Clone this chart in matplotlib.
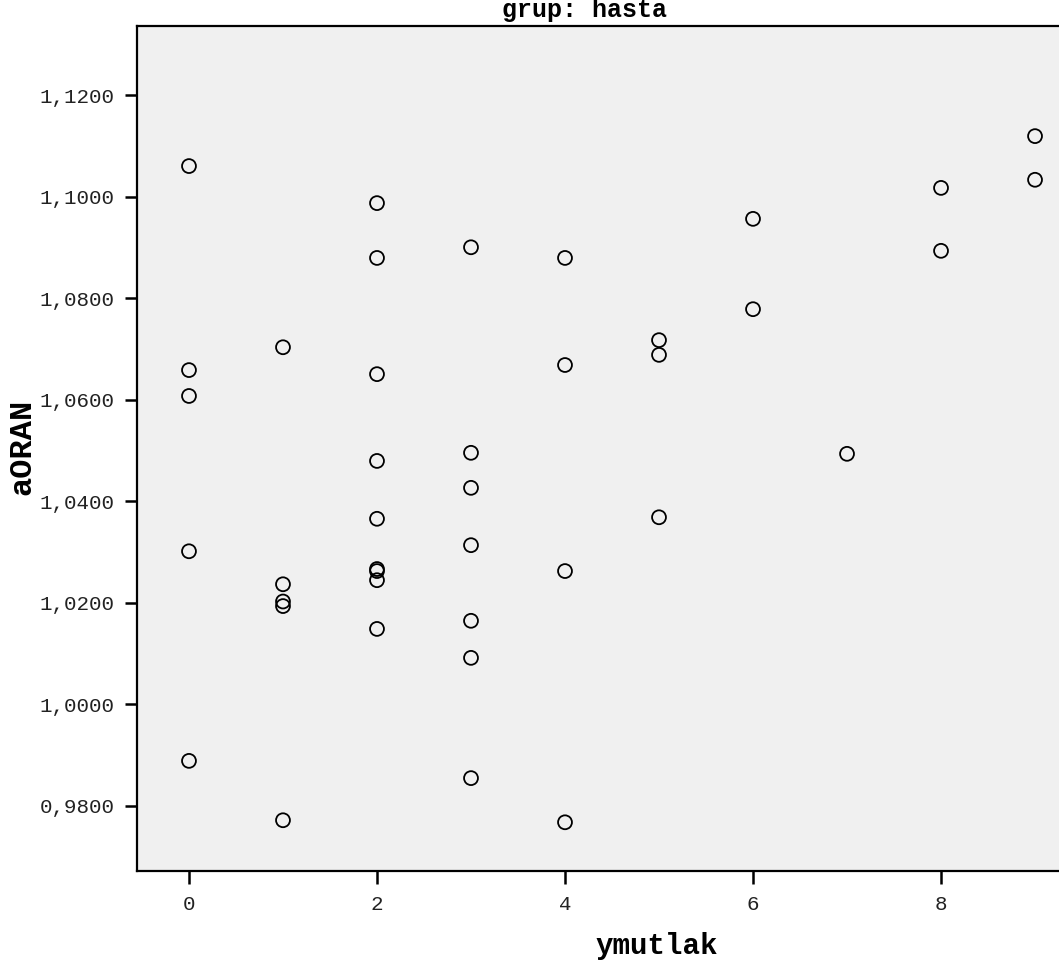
import matplotlib
matplotlib.use("Agg")
import matplotlib.pyplot as plt

# ymutlak values and matching aORAN values (group: hasta)
ymutlak = [0, 0, 0, 0, 0,
           1, 1, 1, 1, 1,
           2, 2, 2, 2, 2, 2, 2, 2, 2,
           3, 3, 3, 3, 3, 3, 3,
           4, 4, 4, 4,
           5, 5, 5,
           6, 6,
           7,
           8, 8,
           9, 9]
aoran = [1.1060, 1.0658, 1.0607, 1.0301, 0.9888,
         1.0703, 1.0236, 1.0202, 1.0193, 0.9771,
         1.0987, 1.0879, 1.0650, 1.0479, 1.0365, 1.0266, 1.0262, 1.0244, 1.0148,
         1.0900, 1.0495, 1.0426, 1.0313, 1.0164, 1.0091, 0.9854,
         1.0879, 1.0668, 1.0262, 0.9767,
         1.0717, 1.0688, 1.0368,
         1.0956, 1.0778,
         1.0493,
         1.1017, 1.0893,
         1.1119, 1.1033]

xticks = [0, 2, 4, 6, 8]
yticks = [0.98, 1.00, 1.02, 1.04, 1.06, 1.08, 1.10, 1.12]

mono = "Liberation Mono"

fig = plt.figure(figsize=(10.59, 9.66), dpi=100)
ax = fig.add_axes([137 / 1059, 95 / 966, 1 - 137 / 1059, 845 / 966])
ax.set_facecolor("#f0f0f0")

ax.scatter(ymutlak, aoran, s=100, facecolors="none", edgecolors="black",
           linewidths=1.3, zorder=3)

ax.set_xlim(-0.553, 9.255)
ax.set_ylim(0.9671, 1.1336)
ax.set_xticks(xticks)
ax.set_xticklabels([str(t) for t in xticks])
ax.set_yticks(yticks)
ax.set_yticklabels([f"{t:.4f}".replace(".", ",") for t in yticks])

ax.tick_params(axis="both", direction="out", length=9, width=1.8,
               labelsize=15, color="black")
ax.tick_params(axis="y", pad=7)
ax.tick_params(axis="x", pad=8)
for lab in ax.get_xticklabels() + ax.get_yticklabels():
    lab.set_family(mono)
    lab.set_color("#222222")

for side in ["left", "bottom", "top"]:
    ax.spines[side].set_linewidth(1.6)
ax.spines["right"].set_visible(False)

fig.text(584 / 1059, 1 - 17 / 966, "grup: hasta", ha="center", va="baseline",
         family=mono, fontweight="bold", fontsize=18)
fig.text(657 / 1059, 1 - 946 / 966, "ymutlak", ha="center", va="center",
         family=mono, fontweight="bold", fontsize=21)
fig.text(22 / 1059, 1 - 447 / 966, "aORAN", ha="center", va="center",
         rotation=90, family=mono, fontweight="bold", fontsize=23)

fig.savefig("out.png", dpi=100)
